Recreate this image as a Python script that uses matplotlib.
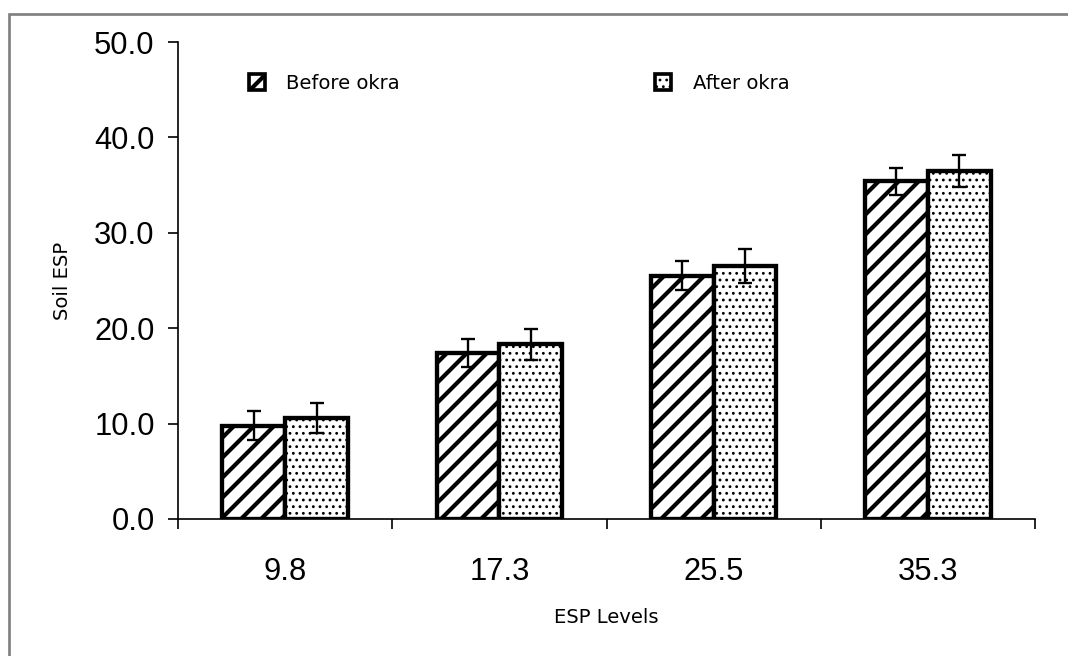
import matplotlib
matplotlib.use("Agg")
import matplotlib.pyplot as plt
from matplotlib.patches import Rectangle, Patch
import numpy as np

# ESP levels and soil ESP before / after the okra crop
levels = ["9.8", "17.3", "25.5", "35.3"]
before = [9.8, 17.4, 25.5, 35.4]
after = [10.6, 18.3, 26.5, 36.5]
before_err = [1.5, 1.45, 1.5, 1.4]
after_err = [1.6, 1.6, 1.75, 1.65]
yticks = [0, 10, 20, 30, 40, 50]

DPI = 120
W, H = 1068, 656
plt.rcParams["hatch.linewidth"] = 2.5


def thin_dots(patch):
    if hasattr(patch, "set_hatch_linewidth"):
        patch.set_hatch_linewidth(0.9)


fig = plt.figure(figsize=(W / DPI, H / DPI), dpi=DPI)
ax = fig.add_axes([178 / W, 1 - 519 / H, (1035 - 178) / W, (519 - 42) / H])

x = np.arange(len(levels))
bw = 0.293

b1 = ax.bar(x - bw / 2, before, bw, facecolor="white", edgecolor="black",
            linewidth=2.6, hatch="//", zorder=2)
b2 = ax.bar(x + bw / 2, after, bw, facecolor="white", edgecolor="black",
            linewidth=2.6, hatch="...", zorder=2)
for p in b2:
    thin_dots(p)

ax.errorbar(x - bw / 2, before, yerr=before_err, fmt="none", ecolor="black",
            elinewidth=1.4, capsize=4.3, capthick=1.4, zorder=3)
ax.errorbar(x + bw / 2, after, yerr=after_err, fmt="none", ecolor="black",
            elinewidth=1.4, capsize=4.3, capthick=1.4, zorder=3)

ax.set_xlim(-0.5, len(levels) - 0.5)
ax.set_ylim(0, 50)
ax.set_yticks(yticks)
ax.set_yticklabels([f"{v:.1f}" for v in yticks], family="Liberation Sans",
                   fontsize=18.5)
ax.set_xticks(x)
ax.set_xticklabels(levels, family="Liberation Sans", fontsize=18.5)
ax.set_xticks(np.arange(len(levels) + 1) - 0.5, minor=True)
ax.tick_params(axis="x", which="major", length=0, pad=23)
ax.tick_params(axis="x", which="minor", length=6, width=1.0, direction="out")
ax.tick_params(axis="y", length=6, width=1.0, direction="out", pad=8)

for s in ["top", "right"]:
    ax.spines[s].set_visible(False)
for s in ["left", "bottom"]:
    ax.spines[s].set_linewidth(1.0)

ax.set_ylabel("Soil ESP", family="DejaVu Sans", fontsize=11.8, labelpad=13)
ax.set_xlabel("ESP Levels", family="DejaVu Sans", fontsize=11.8, labelpad=12.5)

handles = [Patch(facecolor="white", edgecolor="black", linewidth=2.2, hatch="//",
                 label="Before okra"),
           Patch(facecolor="white", edgecolor="black", linewidth=2.2, hatch="...",
                 label="After okra")]
leg = ax.legend(handles=handles, loc="upper left",
                bbox_to_anchor=((239 - 178) / (1035 - 178), 1 - (64 - 42) / (519 - 42)),
                ncol=2, frameon=False, prop={"family": "DejaVu Sans", "size": 11.8},
                handlelength=0.8, handleheight=0.8, handletextpad=1.1,
                columnspacing=13.0, borderpad=0.0)
thin_dots(leg.legend_handles[1])

# outer frame around the figure
fig.patches.append(Rectangle((9 / W, -0.1), 1.2, 1 - 14 / H + 0.1,
                             transform=fig.transFigure, fill=False,
                             edgecolor="#7f7f7f", linewidth=1.6))

fig.savefig("out.png", dpi=DPI)
